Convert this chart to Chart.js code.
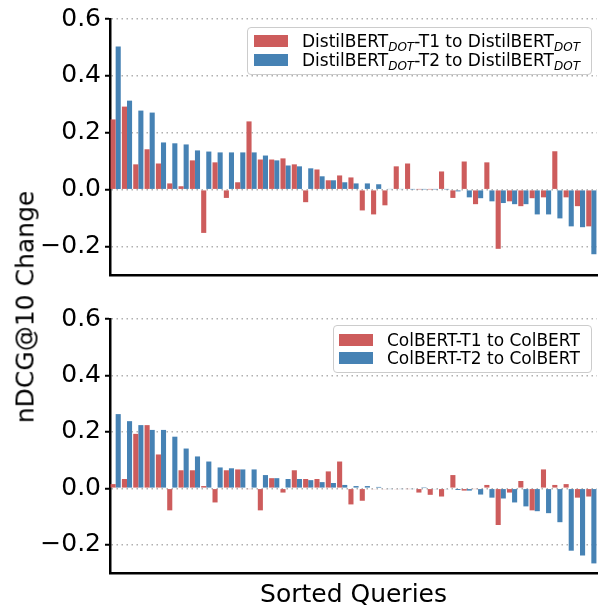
<!DOCTYPE html>
<html>
<head>
<meta charset="utf-8">
<title>nDCG@10 Change</title>
<script src="https://cdn.jsdelivr.net/npm/chart.js"></script>
<style>
  body { margin: 0; background: #fff; font-family: "DejaVu Sans", sans-serif; }
  #page { position: relative; width: 600px; height: 607px; }
  .panel { position: absolute; left: 0; width: 600px; height: 300px; }
  .legend {
    position: absolute; box-sizing: border-box;
    border: 1px solid #cccccc; border-radius: 4px;
    background: rgba(255, 255, 255, 0.8);
    font-size: 17px; color: #000;
  }
  .legend .row { position: absolute; left: 0; height: 18px; line-height: 18px; white-space: nowrap; }
  .legend .patch { position: absolute; width: 34px; height: 12px; top: 3px; }
  .legend .txt { position: absolute; top: 0; }
  .legend sub { font-size: 12px; font-style: italic; vertical-align: -4px; line-height: 0; }
  .axis-title { position: absolute; font-size: 25px; line-height: 29px; white-space: nowrap; color: #000; }
</style>
</head>
<body>
<div id="page">
  <div class="panel" style="top:0"><canvas id="top"></canvas></div>
  <div class="panel" style="top:300px"><canvas id="bottom"></canvas></div>

  <div class="legend" style="left:247px; top:27px; width:345px; height:48px;">
    <div class="row" style="top:4px"><div class="patch" style="left:6px; background:#CD5C5C"></div>
      <div class="txt" style="left:54px">DistilBERT<sub>DOT</sub>-T1 to DistilBERT<sub>DOT</sub></div></div>
    <div class="row" style="top:22.5px"><div class="patch" style="left:6px; background:#4682B4"></div>
      <div class="txt" style="left:54px">DistilBERT<sub>DOT</sub>-T2 to DistilBERT<sub>DOT</sub></div></div>
  </div>

  <div class="legend" style="left:333px; top:325px; width:259px; height:48px;">
    <div class="row" style="top:4.5px"><div class="patch" style="left:5px; background:#CD5C5C"></div>
      <div class="txt" style="left:53px">ColBERT-T1 to ColBERT</div></div>
    <div class="row" style="top:23px"><div class="patch" style="left:5px; background:#4682B4"></div>
      <div class="txt" style="left:53px">ColBERT-T2 to ColBERT</div></div>
  </div>

  <div class="axis-title" style="left:24.5px; top:307px; transform: translate(-50%, -50%) rotate(-90deg);">nDCG@10 Change</div>
  <div class="axis-title" style="left:353.5px; top:593px; transform: translate(-50%, -50%);">Sorted Queries</div>
</div>

<script>
// values, queries sorted by the T2 change
const queries = Array.from({ length: 43 }, (_, i) => 'q' + (i + 1));
const yTicks = [-0.2, 0.0, 0.2, 0.4, 0.6];

const distilT1 = [0.247, 0.292, 0.089, 0.142, 0.092, 0.022, 0.012, 0.103, -0.152, 0.096,
  -0.029, 0.026, 0.240, 0.106, 0.106, 0.110, 0.089, -0.044, 0.071, 0.033,
  0.050, 0.043, -0.073, -0.087, -0.055, 0.082, 0.092, 0.001, 0.001, 0.064,
  -0.029, 0.099, -0.051, 0.096, -0.208, -0.041, -0.058, -0.030, -0.027, 0.135,
  -0.027, -0.058, -0.129];
const distilT2 = [0.503, 0.313, 0.278, 0.271, 0.166, 0.163, 0.159, 0.138, 0.134, 0.131,
  0.131, 0.131, 0.131, 0.120, 0.103, 0.085, 0.082, 0.075, 0.047, 0.033,
  0.026, 0.022, 0.022, 0.019, 0.002, 0.002, 0.001, 0.001, 0.001, 0.001,
  -0.006, -0.027, -0.030, -0.041, -0.047, -0.051, -0.051, -0.087, -0.087, -0.101,
  -0.129, -0.132, -0.227];

const colbertT1 = [0.015, 0.033, 0.193, 0.224, 0.120, -0.078, 0.064, 0.064, 0.008, -0.050,
  0.064, 0.067, -0.002, -0.078, 0.036, -0.015, 0.064, 0.033, 0.033, 0.060,
  0.095, -0.057, -0.044, -0.003, -0.003, -0.003, -0.002, -0.015, -0.023, -0.029,
  0.047, -0.008, -0.002, 0.012, -0.130, -0.015, 0.026, -0.078, 0.067, 0.012,
  0.015, -0.033, -0.029];
const colbertT2 = [0.263, 0.238, 0.224, 0.207, 0.207, 0.183, 0.141, 0.113, 0.095, 0.074,
  0.071, 0.067, 0.067, 0.047, 0.036, 0.033, 0.033, 0.029, 0.022, 0.019,
  0.012, 0.008, 0.008, 0.005, -0.002, -0.002, -0.002, 0.001, -0.003, -0.003,
  -0.006, -0.008, -0.022, -0.033, -0.036, -0.050, -0.064, -0.081, -0.088, -0.120,
  -0.221, -0.238, -0.266];

const RED = '#CD5C5C';
const BLUE = '#4682B4';
const FONT = "'DejaVu Sans', sans-serif";

function makeChart(id, t1, t2, padding) {
  const ctx = document.getElementById(id).getContext('2d');
  return new Chart(ctx, {
    type: 'bar',
    data: {
      labels: queries,
      datasets: [
        { data: t1, backgroundColor: RED, borderWidth: 0, categoryPercentage: 0.9, barPercentage: 1.0 },
        { data: t2, backgroundColor: BLUE, borderWidth: 0, categoryPercentage: 0.9, barPercentage: 1.0 }
      ]
    },
    options: {
      responsive: true,
      maintainAspectRatio: false,
      animation: false,
      events: [],
      layout: { padding: padding },
      plugins: { legend: { display: false }, tooltip: { enabled: false } },
      scales: {
        x: {
          ticks: { display: false },
          grid: { display: false, drawTicks: false },
          border: { display: true, color: '#000', width: 2.5 },
          afterFit: s => { s.height = 0; }
        },
        y: {
          min: -0.3,
          max: 0.6,
          afterBuildTicks: s => { s.ticks = yTicks.map(v => ({ value: v })); },
          ticks: {
            color: '#000',
            padding: 4,
            font: { family: FONT, size: 25 },
            callback: v => v.toFixed(1).replace('-', '\u2212')
          },
          grid: {
            color: '#b0b0b0',
            lineWidth: 1.5,
            drawTicks: true,
            tickLength: 5,
            tickColor: '#000',
            tickWidth: 2,
            tickBorderDash: []
          },
          // in v4 the dash of the grid lines lives under border
          border: { display: true, color: '#000', width: 2.5, dash: [1.5, 3.5] },
          afterFit: s => { s.width = 110; }
        }
      }
    }
  });
}

makeChart('top', distilT1, distilT2, { top: 17.5, bottom: 25, left: 0, right: 3 });
makeChart('bottom', colbertT1, colbertT2, { top: 16, bottom: 27, left: 0, right: 3 });
</script>
</body>
</html>
